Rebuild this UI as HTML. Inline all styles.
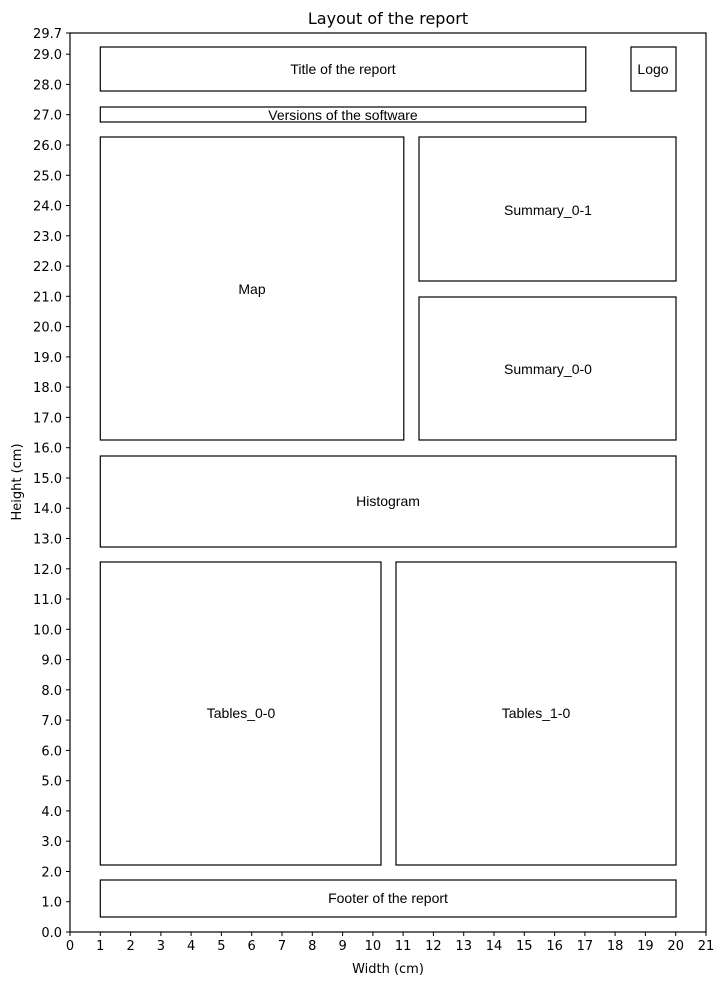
<!DOCTYPE html>
<html><head><meta charset="utf-8"><style>body{margin:0;background:#fff}svg{display:block}</style></head>
<body>
<svg width="725" height="985" xmlns="http://www.w3.org/2000/svg" font-family="DejaVu Sans, sans-serif">
<rect width="725" height="985" fill="#fff"/>
<text x="388" y="24" font-size="16" text-anchor="middle">Layout of the report</text>
<rect x="70" y="33" width="636" height="899" fill="none" stroke="#000" stroke-width="1.2"/>
<g fill="none" stroke="#000" stroke-width="1.2">
<rect x="100.3" y="47" width="485.5" height="44"/>
<rect x="631" y="47" width="45" height="44"/>
<rect x="100.3" y="107" width="485.5" height="15"/>
<rect x="100.3" y="137" width="303.5" height="303"/>
<rect x="419" y="137" width="257" height="144"/>
<rect x="419" y="297" width="257" height="143"/>
<rect x="100.3" y="456" width="575.7" height="91"/>
<rect x="100.3" y="562" width="280.7" height="303"/>
<rect x="396" y="562" width="280" height="303"/>
<rect x="100.3" y="880" width="575.7" height="37"/>
</g>
<g font-family="Liberation Sans, Arial, sans-serif" font-size="14" text-anchor="middle">
<text x="343" y="74">Title of the report</text>
<text x="653" y="74">Logo</text>
<text x="343" y="120">Versions of the software</text>
<text x="252" y="294">Map</text>
<text x="548" y="215">Summary_0-1</text>
<text x="548" y="374">Summary_0-0</text>
<text x="388" y="506">Histogram</text>
<text x="241" y="718">Tables_0-0</text>
<text x="536" y="718">Tables_1-0</text>
<text x="388" y="903">Footer of the report</text>
</g>
<g stroke="#000" stroke-width="1">
<line x1="66" x2="70" y1="932" y2="932"/><line x1="66" x2="70" y1="901.7" y2="901.7"/><line x1="66" x2="70" y1="871.5" y2="871.5"/><line x1="66" x2="70" y1="841.2" y2="841.2"/><line x1="66" x2="70" y1="810.9" y2="810.9"/><line x1="66" x2="70" y1="780.7" y2="780.7"/><line x1="66" x2="70" y1="750.4" y2="750.4"/><line x1="66" x2="70" y1="720.1" y2="720.1"/><line x1="66" x2="70" y1="689.8" y2="689.8"/><line x1="66" x2="70" y1="659.6" y2="659.6"/><line x1="66" x2="70" y1="629.3" y2="629.3"/><line x1="66" x2="70" y1="599" y2="599"/><line x1="66" x2="70" y1="568.8" y2="568.8"/><line x1="66" x2="70" y1="538.5" y2="538.5"/><line x1="66" x2="70" y1="508.2" y2="508.2"/><line x1="66" x2="70" y1="478" y2="478"/><line x1="66" x2="70" y1="447.7" y2="447.7"/><line x1="66" x2="70" y1="417.4" y2="417.4"/><line x1="66" x2="70" y1="387.1" y2="387.1"/><line x1="66" x2="70" y1="356.9" y2="356.9"/><line x1="66" x2="70" y1="326.6" y2="326.6"/><line x1="66" x2="70" y1="296.3" y2="296.3"/><line x1="66" x2="70" y1="266.1" y2="266.1"/><line x1="66" x2="70" y1="235.8" y2="235.8"/><line x1="66" x2="70" y1="205.5" y2="205.5"/><line x1="66" x2="70" y1="175.3" y2="175.3"/><line x1="66" x2="70" y1="145" y2="145"/><line x1="66" x2="70" y1="114.7" y2="114.7"/><line x1="66" x2="70" y1="84.4" y2="84.4"/><line x1="66" x2="70" y1="54.2" y2="54.2"/><line x1="66" x2="70" y1="33" y2="33"/>
<line y1="932" y2="936" x1="70" x2="70"/><line y1="932" y2="936" x1="100.3" x2="100.3"/><line y1="932" y2="936" x1="130.6" x2="130.6"/><line y1="932" y2="936" x1="160.9" x2="160.9"/><line y1="932" y2="936" x1="191.1" x2="191.1"/><line y1="932" y2="936" x1="221.4" x2="221.4"/><line y1="932" y2="936" x1="251.7" x2="251.7"/><line y1="932" y2="936" x1="282" x2="282"/><line y1="932" y2="936" x1="312.3" x2="312.3"/><line y1="932" y2="936" x1="342.6" x2="342.6"/><line y1="932" y2="936" x1="372.9" x2="372.9"/><line y1="932" y2="936" x1="403.1" x2="403.1"/><line y1="932" y2="936" x1="433.4" x2="433.4"/><line y1="932" y2="936" x1="463.7" x2="463.7"/><line y1="932" y2="936" x1="494" x2="494"/><line y1="932" y2="936" x1="524.3" x2="524.3"/><line y1="932" y2="936" x1="554.6" x2="554.6"/><line y1="932" y2="936" x1="584.9" x2="584.9"/><line y1="932" y2="936" x1="615.1" x2="615.1"/><line y1="932" y2="936" x1="645.4" x2="645.4"/><line y1="932" y2="936" x1="675.7" x2="675.7"/><line y1="932" y2="936" x1="706" x2="706"/>
</g>
<g font-size="13" text-anchor="end">
<text x="62" y="937">0.0</text><text x="62" y="906.7">1.0</text><text x="62" y="876.5">2.0</text><text x="62" y="846.2">3.0</text><text x="62" y="815.9">4.0</text><text x="62" y="785.7">5.0</text><text x="62" y="755.4">6.0</text><text x="62" y="725.1">7.0</text><text x="62" y="694.8">8.0</text><text x="62" y="664.6">9.0</text><text x="62" y="634.3">10.0</text><text x="62" y="604">11.0</text><text x="62" y="573.8">12.0</text><text x="62" y="543.5">13.0</text><text x="62" y="513.2">14.0</text><text x="62" y="483">15.0</text><text x="62" y="452.7">16.0</text><text x="62" y="422.4">17.0</text><text x="62" y="392.1">18.0</text><text x="62" y="361.9">19.0</text><text x="62" y="331.6">20.0</text><text x="62" y="301.3">21.0</text><text x="62" y="271.1">22.0</text><text x="62" y="240.8">23.0</text><text x="62" y="210.5">24.0</text><text x="62" y="180.3">25.0</text><text x="62" y="150">26.0</text><text x="62" y="119.7">27.0</text><text x="62" y="89.4">28.0</text><text x="62" y="59.2">29.0</text><text x="62" y="38">29.7</text>
</g>
<g font-size="13" text-anchor="middle">
<text x="70" y="950">0</text><text x="100.3" y="950">1</text><text x="130.6" y="950">2</text><text x="160.9" y="950">3</text><text x="191.1" y="950">4</text><text x="221.4" y="950">5</text><text x="251.7" y="950">6</text><text x="282" y="950">7</text><text x="312.3" y="950">8</text><text x="342.6" y="950">9</text><text x="372.9" y="950">10</text><text x="403.1" y="950">11</text><text x="433.4" y="950">12</text><text x="463.7" y="950">13</text><text x="494" y="950">14</text><text x="524.3" y="950">15</text><text x="554.6" y="950">16</text><text x="584.9" y="950">17</text><text x="615.1" y="950">18</text><text x="645.4" y="950">19</text><text x="675.7" y="950">20</text><text x="706" y="950">21</text>
<text x="388" y="973">Width (cm)</text>
<text x="0" y="0" transform="translate(21,482) rotate(-90)">Height (cm)</text>
</g>
</svg>
</body></html>
